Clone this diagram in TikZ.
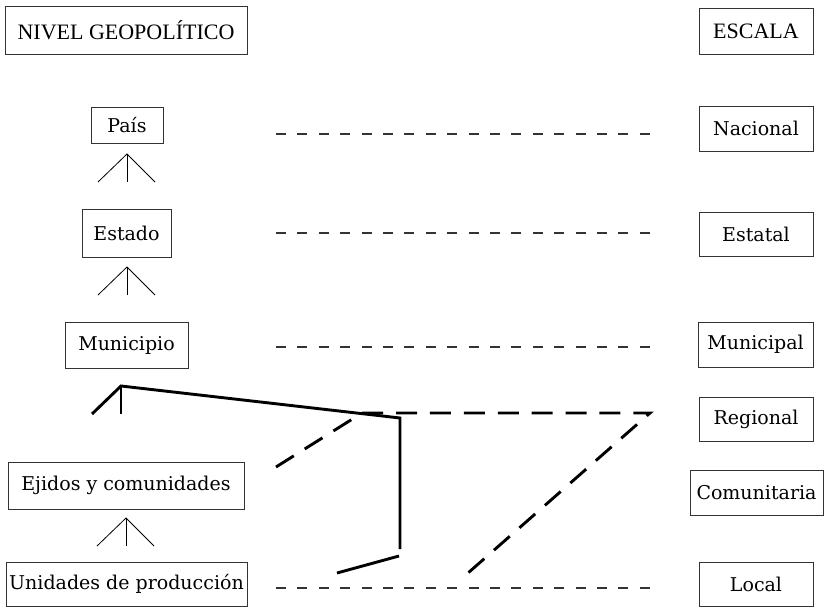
\documentclass[tikz,border=0pt]{standalone}
\usepackage{fontspec}
\setmainfont{DejaVu Serif}
\newfontfamily\hdrfont{Liberation Serif}
\begin{document}
\begin{tikzpicture}[x=1pt,y=-1pt,
  box/.style={draw=black!80,line width=0.9pt,inner sep=0pt,align=center,font=\fontsize{19}{22}\selectfont},
  hdr/.style={box,font=\hdrfont\fontsize{22}{25}\selectfont},
  rowdash/.style={draw=black!80,line width=1.1pt,dash pattern=on 10pt off 11.4pt},
  tri/.style={line width=0.8pt},
  heavy/.style={line width=2.9pt},
  heavydash/.style={line width=2.9pt,dash pattern=on 21pt off 12.9pt}]
\useasboundingbox (0,0) rectangle (824,607);
% headers
\node[hdr,minimum width=242pt,minimum height=48pt] (hl) at (126,30) {NIVEL GEOPOLÍTICO};
\node[hdr,minimum width=114pt,minimum height=46pt] (hr) at (756,31) {ESCALA};
% left column
\node[box,minimum width=72pt,minimum height=36pt] (pais) at (127,125) {País};
\node[box,minimum width=89pt,minimum height=48pt] (estado) at (126.5,233) {Estado};
\node[box,minimum width=123pt,minimum height=46pt] (muni) at (126.5,345) {Municipio};
\node[box,minimum width=236pt,minimum height=47pt] (ejidos) at (126,485.5) {Ejidos y comunidades};
\node[box,minimum width=241pt,minimum height=44pt] (unid) at (126.5,584) {Unidades de producción};
% right column
\node[box,minimum width=114pt,minimum height=45pt] (nac) at (756,128.5) {Nacional};
\node[box,minimum width=114pt,minimum height=44pt] (est) at (756,234) {Estatal};
\node[box,minimum width=115pt,minimum height=45pt] (mun) at (755.5,344.5) {Municipal};
\node[box,minimum width=114pt,minimum height=44pt] (reg) at (756,419) {Regional};
\node[box,minimum width=133pt,minimum height=45pt] (com) at (756.5,492.5) {Comunitaria};
\node[box,minimum width=114pt,minimum height=44pt] (loc) at (756,584) {Local};
% row dashed lines
\coordinate (d1a) at (276,134); \coordinate (d1b) at (651,134);
\coordinate (d2a) at (276,233); \coordinate (d2b) at (651,233);
\coordinate (d3a) at (276,347); \coordinate (d3b) at (651,347);
\coordinate (d4a) at (276,588); \coordinate (d4b) at (651,588);
\draw[rowdash] (d1a) -- (d1b);
\draw[rowdash] (d2a) -- (d2b);
\draw[rowdash] (d3a) -- (d3b);
\draw[rowdash] (d4a) -- (d4b);
% triangles
\coordinate (t1) at (127,154);
\coordinate (t2) at (127,267);
\coordinate (t3) at (126,518);
\foreach \t in {t1,t2,t3}{
  \draw[tri] (\t) ++(-29,28) -- (\t) -- ++(28,28);
  \draw[tri] (\t) -- ++(0,28);
}
% heavy solid lines
\coordinate (ha) at (121,386);
\coordinate (hl1) at (92,414);
\coordinate (hm) at (121,414);
\coordinate (hr1) at (400,418);
\coordinate (hr2) at (400,549);
\coordinate (hb1) at (399,556);
\coordinate (hb2) at (337,573);
\draw[heavy] (hl1) -- (ha) -- (hr1) -- (hr2);
\draw[heavy] (ha) -- (hm);
\draw[heavy] (hb1) -- (hb2);
% heavy dashed lines
\coordinate (p1) at (276,467);
\coordinate (p2) at (362,413);
\coordinate (p3) at (650,413);
\coordinate (p4) at (468,573);
\draw[heavydash] (p1) -- (p2) -- (p3) -- (p4);
\end{tikzpicture}
\end{document}
